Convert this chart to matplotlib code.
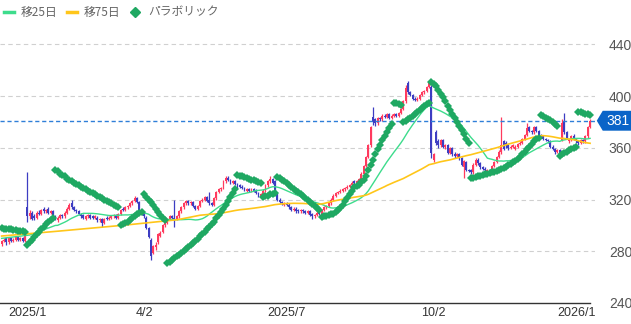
import numpy as np
import pandas as pd
import matplotlib
matplotlib.use("Agg")
import matplotlib.pyplot as plt
from matplotlib.lines import Line2D
from matplotlib.patches import Polygon

plt.rcParams['font.family'] = ['Liberation Sans', 'Noto Sans CJK JP', 'DejaVu Sans']

# daily candles, 2024/12/26 .. 2026/1/14 (trading days)
opens = [286, 288, 290, 287, 290, 288, 289, 291, 289, 290, 288,
         314, 307, 310, 307, 306, 310, 309, 313, 311, 313,
         310, 311, 307, 304, 306, 308, 307, 310, 313, 317,
         314, 312, 311, 309, 308, 305, 307, 308, 307, 306,
         306, 304, 305, 302, 306, 305, 306, 307, 308, 306,
         309, 313, 312, 314, 315, 317, 319, 321, 318, 312,
         310, 306, 298, 289, 279, 283, 287, 292, 295, 300,
         302, 305, 307, 306, 305, 307, 311, 314, 317, 319,
         317, 318, 315, 313, 315, 319, 320, 322, 320, 317,
         316, 321, 326, 328, 329, 334, 337, 335, 333, 334,
         332, 331, 330, 329, 327, 328, 327, 328, 327, 325,
         323, 324, 327, 331, 334, 336, 334, 324, 320, 318,
         316, 317, 316, 314, 312, 313, 312, 311, 312, 311,
         310, 311, 309, 307, 308, 310, 309, 312, 314, 315,
         317, 320, 323, 325, 326, 327, 328, 329, 330, 331,
         334, 333, 334, 336, 340, 346, 353, 362, 384, 382,
         379, 383, 382, 385, 384, 386, 383, 385, 386, 385,
         387, 390, 396, 410, 403, 401, 398, 397, 398, 401,
         403, 404, 407, 407, 351, 372, 365, 362, 366, 361,
         362, 356, 360, 355, 354, 355, 352, 345, 349, 343,
         343, 341, 347, 351, 348, 345, 344, 342, 343, 342,
         346, 349, 353, 357, 365, 364, 362, 360, 361, 359,
         361, 363, 364, 367, 370, 376, 373, 372, 376, 373,
         370, 369, 367, 366, 365, 361, 359, 357, 358, 366,
         381, 372, 365, 366, 369, 367, 365, 364, 366, 365,
         369, 376]
closes = [288, 289, 287, 290, 288, 289, 291, 289, 290, 288, 292,
          307, 310, 305, 306, 310, 309, 312, 311, 312, 310,
          311, 307, 305, 306, 308, 307, 310, 313, 316, 314,
          312, 311, 309, 307, 306, 307, 308, 306, 306, 307,
          304, 305, 302, 305, 305, 306, 307, 308, 306, 309,
          312, 312, 314, 315, 317, 319, 321, 318, 312, 310,
          307, 298, 291, 276, 284, 285, 293, 294, 300, 302,
          305, 307, 306, 305, 307, 311, 314, 317, 319, 317,
          318, 315, 313, 315, 319, 320, 322, 319, 317, 316,
          321, 326, 328, 329, 334, 337, 335, 333, 334, 332,
          330, 330, 329, 328, 328, 327, 328, 327, 325, 323,
          324, 327, 331, 334, 336, 333, 327, 320, 318, 317,
          317, 316, 314, 312, 313, 311, 311, 312, 311, 310,
          311, 308, 307, 308, 310, 309, 312, 314, 315, 317,
          320, 323, 325, 326, 327, 328, 329, 330, 331, 333,
          333, 334, 336, 340, 346, 353, 362, 376, 380, 379,
          383, 382, 385, 384, 386, 383, 385, 386, 385, 387,
          390, 396, 406, 403, 401, 398, 397, 398, 401, 403,
          404, 407, 410, 356, 355, 364, 362, 366, 361, 362,
          356, 360, 355, 354, 355, 352, 347, 350, 343, 342,
          341, 347, 351, 348, 345, 344, 343, 343, 342, 346,
          349, 353, 357, 362, 359, 362, 360, 361, 362, 361,
          363, 364, 367, 370, 375, 373, 372, 376, 373, 370,
          369, 367, 366, 365, 361, 359, 357, 358, 356, 379,
          372, 368, 366, 369, 367, 365, 364, 366, 365, 369,
          376, 381]
highs = [289, 290, 291, 291, 291, 290, 292, 292, 291, 291, 294,
         341, 312, 311, 309, 311, 312, 313, 314, 313, 314,
         312, 312, 308, 307, 309, 309, 311, 314, 317, 320,
         315, 313, 312, 310, 309, 308, 309, 309, 308, 308,
         307, 306, 306, 306, 307, 307, 308, 309, 309, 310,
         313, 314, 315, 316, 318, 320, 323, 322, 319, 313,
         311, 307, 299, 290, 285, 287, 294, 296, 301, 304,
         306, 308, 308, 320, 308, 312, 315, 318, 320, 320,
         319, 319, 316, 316, 320, 321, 323, 323, 326, 318,
         322, 327, 329, 330, 335, 338, 338, 336, 335, 335,
         333, 332, 331, 330, 329, 329, 329, 329, 328, 326,
         325, 328, 332, 335, 338, 337, 335, 325, 321, 319,
         318, 318, 317, 315, 314, 314, 313, 313, 313, 312,
         312, 312, 310, 309, 311, 311, 313, 315, 316, 318,
         321, 324, 326, 327, 328, 329, 330, 331, 332, 334,
         335, 335, 337, 341, 347, 354, 363, 377, 392, 383,
         384, 384, 386, 386, 387, 387, 386, 387, 387, 388,
         391, 397, 409, 412, 404, 402, 399, 399, 402, 404,
         405, 408, 412, 409, 356, 374, 367, 367, 367, 363,
         363, 361, 361, 357, 356, 356, 353, 351, 350, 344,
         344, 348, 352, 352, 349, 346, 345, 344, 344, 347,
         350, 354, 358, 384, 366, 365, 363, 362, 363, 362,
         364, 365, 368, 371, 379, 377, 374, 377, 377, 374,
         371, 370, 368, 367, 366, 362, 360, 359, 359, 382,
         387, 373, 367, 370, 371, 368, 366, 367, 367, 370,
         377, 382]
lows = [284, 287, 285, 286, 287, 287, 288, 288, 288, 287, 287,
        303, 305, 304, 304, 305, 308, 308, 310, 310, 309,
        309, 306, 304, 303, 305, 306, 306, 309, 312, 313,
        311, 310, 308, 306, 305, 304, 306, 305, 305, 305,
        303, 303, 299, 301, 304, 304, 305, 306, 305, 305,
        308, 311, 311, 313, 314, 316, 318, 317, 311, 308,
        306, 297, 290, 273, 278, 281, 286, 291, 294, 299,
        301, 304, 305, 299, 304, 306, 310, 313, 316, 316,
        316, 314, 312, 312, 314, 318, 319, 318, 316, 315,
        315, 320, 325, 327, 328, 333, 334, 332, 332, 331,
        329, 329, 328, 327, 326, 326, 326, 326, 324, 322,
        322, 323, 326, 330, 333, 332, 326, 319, 317, 316,
        315, 315, 313, 311, 311, 310, 310, 310, 310, 309,
        309, 307, 305, 306, 307, 308, 308, 311, 313, 314,
        316, 319, 322, 324, 325, 326, 327, 328, 329, 330,
        332, 332, 333, 335, 339, 345, 352, 361, 378, 377,
        378, 381, 381, 383, 383, 382, 382, 384, 384, 384,
        386, 389, 395, 402, 400, 397, 396, 396, 397, 400,
        402, 403, 406, 352, 349, 362, 360, 361, 360, 359,
        355, 355, 354, 352, 353, 351, 346, 337, 342, 341,
        340, 340, 346, 347, 344, 343, 341, 341, 340, 341,
        345, 348, 352, 355, 358, 360, 358, 359, 360, 358,
        360, 362, 363, 366, 369, 372, 371, 371, 372, 369,
        368, 366, 365, 364, 360, 358, 355, 356, 354, 365,
        371, 367, 364, 365, 366, 364, 362, 363, 364, 364,
        368, 375]

# parabolic SAR, one dot per day
sar = [298, 297.5, 297.5, 297, 297, 296.5, 296.5, 296, 296, 295.5, 295,
       285, 287, 289, 291, 293, 295, 297, 299, 301, 302.5, 304, 305.5,
       343, 342, 340, 339, 338, 336, 335, 334, 333, 332, 331, 330, 329, 328,
       327, 326, 325, 324, 323, 322, 321, 320, 319, 318, 317, 316, 315, 314,
       300, 301, 302, 303, 304.5, 306, 307, 308.5, 309.5, 310.5,
       324, 322, 320, 318, 315.5, 313, 310.5, 308, 306, 304,
       271, 272, 273, 274.5, 276, 277.5, 279, 280.5, 282, 283.5, 285, 286.5,
       288, 289.5, 291.5, 293, 295, 297, 299, 301, 303, 305.5, 308, 310.5,
       313, 316, 319, 322, 325, 328,
       339, 338.5, 338, 337.5, 337, 336, 335.5, 335, 334, 333.5, 333,
       322, 322.5, 323, 324, 324.5, 325,
       337.5, 336.5, 335.5, 334, 333, 331.5, 330, 328.5, 327, 325.5, 324,
       322.5, 321, 319.5, 318, 316.5, 315, 313.5, 312,
       306.5, 307, 307.5, 308, 308.5, 309, 310.5, 312, 313.5, 316, 319,
       321.5, 324.5, 327, 329.5, 330.5, 331.5, 333.5, 335.5, 338, 343, 347,
       351, 355, 359, 362.5, 366, 369.5, 372.5, 375.5, 378.5,
       395, 394.5, 394, 393.5,
       380, 381, 382, 383.5, 385, 386.5, 388, 389.5, 391, 392.5, 394, 395,
       411, 409.5, 407.5, 405, 402, 399, 396, 392.5, 389, 386, 383, 380,
       377, 374, 370.5, 367, 363.5,
       336.5, 337, 337.5, 338, 338.5, 339, 339.5, 340, 340.5, 341, 341.5,
       342, 343, 344, 344.5, 345.5, 346.5, 347.5, 349, 350, 351.5, 353, 355,
       357, 359, 361, 363, 365, 366.5, 368,
       385.5, 384.5, 383.5, 382.5, 381.5, 380, 378.5, 377,
       354, 355, 356, 357, 358, 359, 360, 361,
       388, 387.5, 387, 386.5, 386, 385.5]

# moving averages before enough history is on screen
ma25_head_idx = [0, 12, 23]
ma25_head = [290.0, 292.6, 300.0]
ma75_head_idx = [0, 25, 53, 73]
ma75_head = [291.8, 295.7, 300.3, 304.0]

tick_idx = [3, 61, 122, 185, 246]
tick_labels = ['2025/1', '4/2', '2025/7', '10/2', '2026/1']
y_ticks = [240, 280, 320, 360, 400, 440]
last_price = 381

UP = '#ff3a5e'
DOWN = '#3d3dc2'
C25 = '#3ddc8c'
C75 = '#ffc61a'
CSAR = '#1fa862'

n = len(closes)
assert len(opens) == len(highs) == len(lows) == len(sar) == n
x = np.arange(n)
df = pd.DataFrame({'o': opens, 'h': highs, 'l': lows, 'c': closes})
ma25 = df['c'].rolling(25).mean()
ma75 = df['c'].rolling(75).mean()

fig = plt.figure(figsize=(6.31, 3.24), dpi=100)
ax = fig.add_axes([0, 21 / 324, 595 / 631, 273 / 324])
ax.set_xlim(-0.69, 254.1)
ax.set_ylim(240, 451.2)

for v in y_ticks[1:]:
    ax.axhline(v, color='#d0d0d0', lw=0.8, ls=(0, (4, 3)), zorder=0)

up = df['c'] >= df['o']
col = np.where(up, UP, DOWN)
ax.vlines(x, df['l'], df['h'], colors=col, lw=0.9, zorder=2)
body_lo = np.minimum(df['o'], df['c'])
body_h = np.maximum(np.abs(df['c'] - df['o']), 0.8)
ax.bar(x, body_h, bottom=body_lo, width=0.82, color=col, lw=0, zorder=2)

ax.plot(ma25_head_idx + list(x[24:]), ma25_head + list(ma25[24:]),
        color=C25, lw=1.0, zorder=3)
ax.plot(ma75_head_idx + list(x[74:]), ma75_head + list(ma75[74:]),
        color=C75, lw=1.2, zorder=3)
ax.plot(x, sar, ls='none', marker='D', ms=4.1, mfc=CSAR, mec=CSAR,
        mew=0, zorder=4)

ax.axhline(last_price, color='#2f7fd8', lw=1.0, ls=(0, (3, 2)), zorder=3)

for s in ['top', 'left', 'right']:
    ax.spines[s].set_visible(False)
ax.spines['bottom'].set_color('#333333')
ax.spines['bottom'].set_linewidth(1.0)
ax.spines['bottom'].set_bounds(-0.69, 252)

ax.yaxis.tick_right()
ax.set_yticks(y_ticks)
ax.set_yticklabels([str(v) for v in y_ticks], fontsize=10, color='#555555')
ax.tick_params(axis='y', length=0, pad=10)
ax.set_xticks(tick_idx)
ax.set_xticklabels(tick_labels, fontsize=9, color='#333333')
ax.tick_params(axis='x', length=0, pad=3)
ax.get_xticklabels()[0].set_horizontalalignment('left')

# current price tag
tr = ax.get_yaxis_transform()
tag = Polygon([(1.003, last_price), (1.013, last_price + 7.7),
               (1.062, last_price + 7.7), (1.062, last_price - 7.7),
               (1.013, last_price - 7.7)], closed=True, transform=tr,
              facecolor='#0a64c8', edgecolor='none', clip_on=False, zorder=5)
ax.add_patch(tag)
ax.text(1.038, last_price, str(last_price), transform=tr, color='white',
        fontsize=10, ha='center', va='center', zorder=6)

# legend
fy = 1 - 12 / 324
fig.add_artist(Line2D([4 / 631, 14 / 631], [fy, fy], color=C25, lw=2.5))
fig.text(21 / 631, fy, '移25日', fontsize=8.5, color='#666666', va='center',
         family=['Noto Sans CJK JP', 'DejaVu Sans'])
fig.add_artist(Line2D([67 / 631, 77 / 631], [fy, fy], color=C75, lw=2.5))
fig.text(84 / 631, fy, '移75日', fontsize=8.5, color='#666666', va='center',
         family=['Noto Sans CJK JP', 'DejaVu Sans'])
fig.add_artist(Line2D([135 / 631], [fy], marker='D', ms=5, color=CSAR, lw=0))
fig.text(148 / 631, fy, 'パラボリック', fontsize=8.5, color='#666666', va='center',
         family=['Noto Sans CJK JP', 'DejaVu Sans'])

fig.savefig('out.png', dpi=100)
